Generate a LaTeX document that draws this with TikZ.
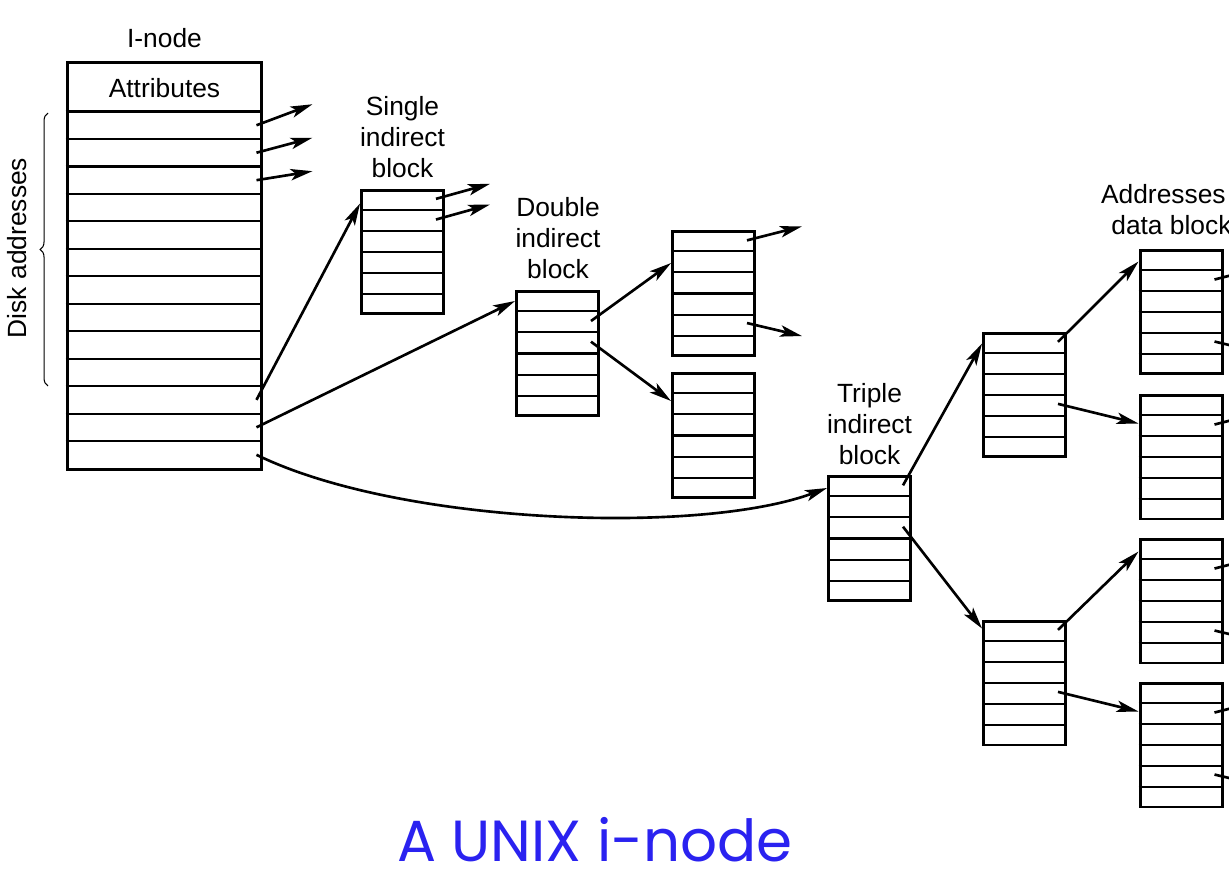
\documentclass[tikz,border=0pt]{standalone}
\usepackage{fontspec}
\setmainfont{Liberation Sans}
\newfontfamily\titlefont{Poppins}
\usetikzlibrary{calc,arrows.meta,decorations.pathreplacing}

\definecolor{titleblue}{RGB}{42,34,240}

\tikzset{
  blk/.style={draw, line width=1.7pt, minimum width=1.64cm, minimum height=2.48cm, inner sep=0pt},
  rowline/.style={line width=1.25pt},
  ptr/.style={line width=1.5pt, -{Stealth[length=12.5pt,width=6.5pt,inset=3pt]}},
  lbl/.style={align=center, font=\fontsize{15}{17.6}\selectfont},
}

\begin{document}
\begin{tikzpicture}[x=0.02cm, y=-0.02cm]
    \useasboundingbox (0,0) rectangle (1229,868);
    \clip (0,0) rectangle (1229,868);

    % i-node
    \node[draw, line width=1.7pt, minimum width=3.9cm, minimum height=8.16cm, inner sep=0pt] (inode) at (164.5,266) {};
    \node[lbl] (inodeLabel) at (164.5,38) {I-node};
    \node[lbl] (attr) at (164.5,88) {Attributes};
    \draw[rowline] ($(inode.north west)+(0,51)$) -- ($(inode.north east)+(0,51)$);
    \foreach \k in {1,...,12}
      \draw[rowline] ($(inode.north west)+(0,{51+\k*27.46})$) -- ($(inode.north east)+(0,{51+\k*27.46})$);
    \foreach \k in {1,...,13}
      \coordinate (inode-r\k) at ($(inode.north east)+(-7,{51+(\k-0.5)*27.46})$);

    \coordinate (braceTop) at (48,113);
    \coordinate (braceBot) at (48,386);
    \draw[line width=0.6pt, decorate, decoration={brace, amplitude=4.5pt}] (braceBot) -- (braceTop);
    \node[lbl, rotate=90] (diskLabel) at (17,248) {Disk addresses};

    % indirect blocks
    \node[blk] (single) at (402.5,252) {};
    \node[blk] (double) at (557.5,353.5) {};
    \node[blk] (dblA) at (713.5,293.5) {};
    \node[blk] (dblB) at (713.5,435.5) {};
    \node[blk] (triple) at (869.5,538.5) {};
    \node[blk] (trpA) at (1024.5,395) {};
    \node[blk] (trpB) at (1024.5,683) {};
    \node[blk] (datA) at (1181,312) {};
    \node[blk] (datB) at (1181,457) {};
    \node[blk] (datC) at (1181,601) {};
    \node[blk] (datD) at (1181,745) {};

    \foreach \b in {single,double,dblA,dblB,triple,trpA,trpB,datA,datB,datC,datD} {
      \foreach \k in {1,...,5}
        \draw[rowline] ($(\b.north west)!\k/6!(\b.south west)$) -- ($(\b.north east)!\k/6!(\b.south east)$);
      \foreach \k in {1,...,6}
        \coordinate (\b-r\k) at ($(\b.north east)+(-9,{(\k-0.5)*20.67})$);
    }

    \node[lbl] (singleLabel) at (402.5,137) {Single\\indirect\\block};
    \node[lbl] (doubleLabel) at (558,238) {Double\\indirect\\block};
    \node[lbl] (tripleLabel) at (869.5,424) {Triple\\indirect\\block};
    \node[lbl] (dataLabel) at (1178,210) {Addresses of\\data blocks};

    % entry points on the left edges
    \coordinate (single-in) at ($(single.north west)+(0,15)$);
    \coordinate (double-in) at ($(double.north west)+(0,11)$);
    \coordinate (dblA-in) at ($(dblA.north west)+(0,33)$);
    \coordinate (dblB-in) at ($(dblB.north west)+(0,29)$);
    \coordinate (triple-in) at ($(triple.north west)+(0,13)$);
    \coordinate (trpA-in) at ($(trpA.north west)+(0,12)$);
    \coordinate (trpB-in) at ($(trpB.north west)+(0,9)$);
    \coordinate (datA-in) at ($(datA.north west)+(0,13)$);
    \coordinate (datB-in) at ($(datB.north west)+(0,30)$);
    \coordinate (datC-in) at ($(datC.north west)+(0,14)$);
    \coordinate (datD-in) at ($(datD.north west)+(0,30)$);

    % free ends to data blocks
    \coordinate (inode-o1) at ($(inode-r1)+(56,-21)$);
    \coordinate (inode-o2) at ($(inode-r2)+(56,-15)$);
    \coordinate (inode-o3) at ($(inode-r3)+(56,-9)$);
    \coordinate (single-o1) at ($(single-r1)+(54,-15)$);
    \coordinate (single-o2) at ($(single-r2)+(54,-15)$);
    \coordinate (dblA-o1) at ($(dblA-r1)+(55,-14)$);
    \coordinate (dblA-o5) at ($(dblA-r5)+(55,13)$);
    \coordinate (datA-o2) at ($(datA-r2)+(55,-14)$);
    \coordinate (datA-o5) at ($(datA-r5)+(55,13)$);
    \coordinate (datB-o2) at ($(datB-r2)+(55,-14)$);
    \coordinate (datC-o2) at ($(datC-r2)+(55,-14)$);
    \coordinate (datC-o5) at ($(datC-r5)+(55,13)$);
    \coordinate (datD-o2) at ($(datD-r2)+(55,-14)$);
    \coordinate (datD-o5) at ($(datD-r5)+(55,13)$);

    \draw[ptr] (inode-r1) -- (inode-o1);
    \draw[ptr] (inode-r2) -- (inode-o2);
    \draw[ptr] (inode-r3) -- (inode-o3);
    \draw[ptr] (single-r1) -- (single-o1);
    \draw[ptr] (single-r2) -- (single-o2);
    \draw[ptr] (dblA-r1) -- (dblA-o1);
    \draw[ptr] (dblA-r5) -- (dblA-o5);
    \draw[ptr] (datA-r2) -- (datA-o2);
    \draw[ptr] (datA-r5) -- (datA-o5);
    \draw[ptr] (datB-r2) -- (datB-o2);
    \draw[ptr] (datC-r2) -- (datC-o2);
    \draw[ptr] (datC-r5) -- (datC-o5);
    \draw[ptr] (datD-r2) -- (datD-o2);
    \draw[ptr] (datD-r5) -- (datD-o5);

    \draw[ptr] (inode-r11) -- (single-in);
    \draw[ptr] (inode-r12) -- (double-in);
    \draw[ptr] (inode-r13) .. controls (400,525) and (700,535) .. (triple-in);
    \draw[ptr] (double-r2) -- (dblA-in);
    \draw[ptr] (double-r3) -- (dblB-in);
    \draw[ptr] (triple-r1) -- (trpA-in);
    \draw[ptr] (triple-r3) -- (trpB-in);
    \draw[ptr] (trpA-r1) -- (datA-in);
    \draw[ptr] (trpA-r4) -- (datB-in);
    \draw[ptr] (trpB-r1) -- (datC-in);
    \draw[ptr] (trpB-r4) -- (datD-in);

    \node[text=titleblue, inner sep=0pt, text depth=0pt, text height=24pt, anchor=base, font=\titlefont\fontsize{33}{36}\selectfont] (title) at (595,861) {A UNIX i-node};
\end{tikzpicture}
\end{document}
